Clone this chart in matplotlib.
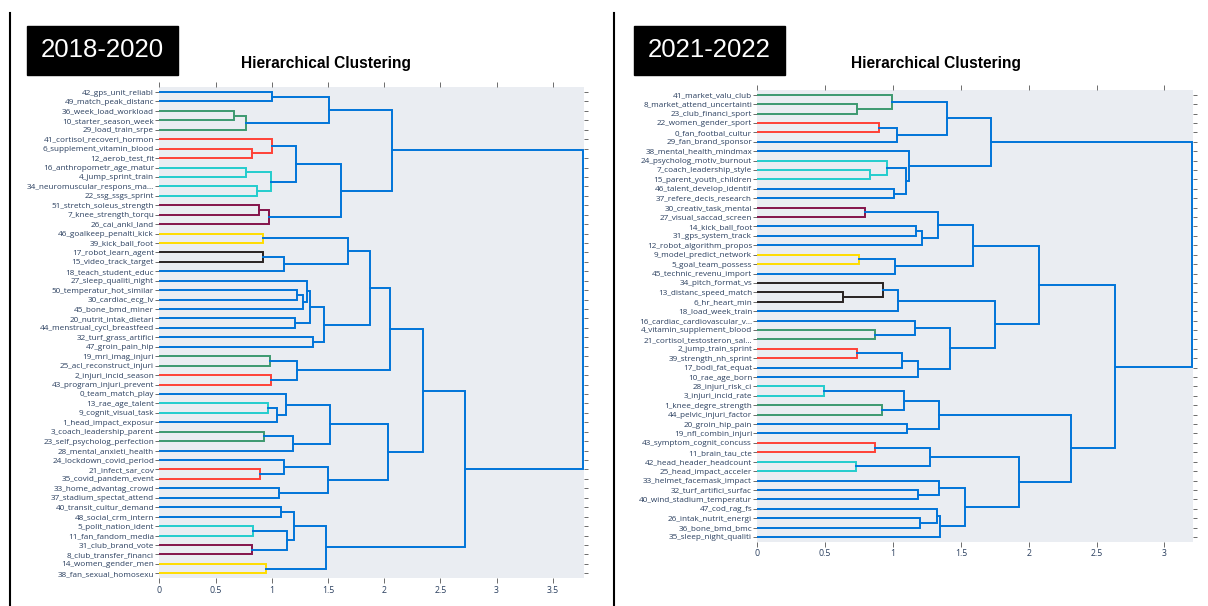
import numpy as np
import matplotlib
matplotlib.use('Agg')
import matplotlib.pyplot as plt
from matplotlib.lines import Line2D
from matplotlib.patches import Rectangle

# cluster colours (0 = links above the colour threshold)
palette = {0: '#0074D9', 1: '#23CDCD', 2: '#3D9970', 3: '#282323',
           4: '#85144B', 5: '#FF4136', 7: '#FFDC00'}
BG = '#EAEDF2'
TXT = '#2a3f5f'

# ---- 2018-2020 ----
labels_a = [
    '42_gps_unit_reliabl', '49_match_peak_distanc', '36_week_load_workload',
    '10_starter_season_week', '29_load_train_srpe', '41_cortisol_recoveri_hormon',
    '6_supplement_vitamin_blood', '12_aerob_test_fit', '16_anthropometr_age_matur',
    '4_jump_sprint_train', '34_neuromuscular_respons_ma...', '22_ssg_ssgs_sprint',
    '51_stretch_soleus_strength', '7_knee_strength_torqu', '26_cai_ankl_land',
    '46_goalkeep_penalti_kick', '39_kick_ball_foot', '17_robot_learn_agent',
    '15_video_track_target', '18_teach_student_educ', '27_sleep_qualiti_night',
    '50_temperatur_hot_similar', '30_cardiac_ecg_lv', '45_bone_bmd_miner',
    '20_nutrit_intak_dietari', '44_menstrual_cycl_breastfeed', '32_turf_grass_artifici',
    '47_groin_pain_hip', '19_mri_imag_injuri', '25_acl_reconstruct_injuri',
    '2_injuri_incid_season', '43_program_injuri_prevent', '0_team_match_play',
    '13_rae_age_talent', '9_cognit_visual_task', '1_head_impact_exposur',
    '3_coach_leadership_parent', '23_self_psycholog_perfection', '28_mental_anxieti_health',
    '24_lockdown_covid_period', '21_infect_sar_cov', '35_covid_pandem_event',
    '33_home_advantag_crowd', '37_stadium_spectat_attend', '40_transit_cultur_demand',
    '48_social_crm_intern', '5_polit_nation_ident', '11_fan_fandom_media',
    '31_club_brand_vote', '8_club_transfer_financi', '14_women_gender_men',
    '38_fan_sexual_homosexu',
]
# merges: node ids 0..n-1 are leaves, new nodes numbered from n upward
pairs_a = [
    (0, 1), (2, 3), (53, 4), (52, 54), (6, 7), (5, 56), (8, 9), (10, 11),
    (58, 59), (57, 60), (12, 13), (62, 14), (61, 63), (55, 64), (15, 16),
    (17, 18), (67, 19), (66, 68), (21, 22), (70, 23), (20, 71), (24, 25),
    (72, 73), (26, 27), (74, 75), (69, 76), (28, 29), (30, 31), (78, 79),
    (77, 80), (33, 34), (82, 35), (32, 83), (36, 37), (85, 38), (84, 86),
    (40, 41), (39, 88), (42, 43), (89, 90), (87, 91), (81, 92), (44, 45),
    (46, 47), (48, 49), (95, 96), (94, 97), (50, 51), (98, 99), (93, 100),
    (65, 101),
]
heights_a = [
    1.005, 0.667, 0.771, 1.510, 0.821, 0.999, 0.774, 0.872,
    0.993, 1.213, 0.884, 0.979, 1.616, 2.073, 0.925,
    0.922, 1.112, 1.679, 1.228, 1.281, 1.311, 1.210,
    1.343, 1.364, 1.465, 1.874, 0.985, 0.993, 1.228,
    2.055, 0.970, 1.047, 1.127, 0.934, 1.192, 1.521,
    0.899, 1.109, 1.068, 1.504, 2.037, 2.349, 1.082,
    0.833, 0.827, 1.133, 1.201, 0.952, 1.486, 2.722,
    3.772,
]
groups_a = [
    0, 2, 2, 0, 5, 5, 1, 1,
    1, 0, 4, 4, 0, 0, 7,
    3, 0, 0, 0, 0, 0, 0,
    0, 0, 0, 0, 2, 5, 0,
    0, 1, 0, 0, 2, 0, 0,
    5, 0, 0, 0, 0, 0, 0,
    1, 4, 0, 0, 7, 0, 0,
    0,
]

# ---- 2021-2022 ----
labels_b = [
    '41_market_valu_club', '8_market_attend_uncertainti', '23_club_financi_sport',
    '22_women_gender_sport', '0_fan_footbal_cultur', '29_fan_brand_sponsor',
    '38_mental_health_mindmax', '24_psycholog_motiv_burnout', '7_coach_leadership_style',
    '15_parent_youth_children', '46_talent_develop_identif', '37_refere_decis_research',
    '30_creativ_task_mental', '27_visual_saccad_screen', '14_kick_ball_foot',
    '31_gps_system_track', '12_robot_algorithm_propos', '9_model_predict_network',
    '5_goal_team_possess', '45_technic_revenu_import', '34_pitch_format_vs',
    '13_distanc_speed_match', '6_hr_heart_min', '18_load_week_train',
    '16_cardiac_cardiovascular_v...', '4_vitamin_supplement_blood',
    '21_cortisol_testosteron_sal...', '2_jump_train_sprint', '39_strength_nh_sprint',
    '17_bodi_fat_equat', '10_rae_age_born', '28_injuri_risk_ci', '3_injuri_incid_rate',
    '1_knee_degre_strength', '44_pelvic_injuri_factor', '20_groin_hip_pain',
    '19_nfl_combin_injuri', '43_symptom_cognit_concuss', '11_brain_tau_cte',
    '42_head_header_headcount', '25_head_impact_acceler', '33_helmet_facemask_impact',
    '32_turf_artifici_surfac', '40_wind_stadium_temperatur', '47_cod_rag_fs',
    '26_intak_nutrit_energi', '36_bone_bmd_bmc', '35_sleep_night_qualiti',
]
pairs_b = [
    (1, 2), (0, 48), (3, 4), (50, 5), (49, 51), (8, 9), (7, 53), (10, 11),
    (54, 55), (6, 56), (52, 57), (12, 13), (14, 15), (60, 16), (59, 61),
    (17, 18), (63, 19), (62, 64), (21, 22), (20, 66), (67, 23), (25, 26),
    (24, 69), (27, 28), (71, 29), (72, 30), (70, 73), (68, 74), (65, 75),
    (31, 32), (33, 34), (77, 78), (35, 36), (79, 80), (37, 38), (39, 40),
    (82, 83), (42, 43), (41, 85), (45, 46), (44, 87), (88, 47), (86, 89),
    (84, 90), (81, 91), (76, 92), (58, 93),
]
heights_b = [
    0.735, 0.993, 0.899, 1.027, 1.400, 0.828, 0.953, 1.005,
    1.098, 1.118, 1.725, 0.791, 1.167, 1.214, 1.334,
    0.749, 1.015, 1.592, 0.629, 0.929, 1.037, 0.870,
    1.162, 0.737, 1.069, 1.182, 1.423, 1.752, 2.074,
    0.491, 0.921, 1.084, 1.101, 1.342, 0.870, 0.727,
    1.275, 1.184, 1.342, 1.199, 1.327, 1.349, 1.533,
    1.929, 2.312, 2.634, 3.204,
]
groups_b = [
    2, 2, 5, 0, 0, 1, 1, 0,
    0, 0, 0, 4, 0, 0, 0,
    7, 0, 0, 3, 3, 0, 2,
    0, 5, 0, 0, 0, 0, 0,
    1, 2, 0, 0, 0, 5, 1,
    0, 0, 0, 0, 0, 0, 0,
    0, 0, 0, 0,
]


def draw_dendro(ax, labels, pairs, heights, groups, xmax):
    n = len(labels)
    ypos = list(range(n))
    hpos = [0.0] * n
    for (a, b), h, g in zip(pairs, heights, groups):
        ax.plot([hpos[a], h, h, hpos[b]], [ypos[a], ypos[a], ypos[b], ypos[b]],
                color=palette[g], lw=1.4, solid_joinstyle='miter')
        ypos.append((ypos[a] + ypos[b]) / 2)
        hpos.append(h)

    ax.set_facecolor(BG)
    for s in ax.spines.values():
        s.set_visible(False)
    ax.set_xlim(0, xmax)
    ax.set_ylim(n - 0.5, -0.5)
    ax.set_yticks(range(n))
    ax.set_yticklabels(labels, family='Open Sans')
    xt = np.arange(0, xmax, 0.5)
    ax.set_xticks(xt)
    ax.set_xticklabels(['%g' % v for v in xt], family='Open Sans')
    ax.tick_params(axis='y', left=True, right=True, direction='out', length=3,
                   width=0.6, color='#555555', labelsize=5.85, labelcolor=TXT, pad=0.8)
    ax.tick_params(axis='x', top=True, bottom=True, direction='out', length=3.5,
                   width=0.6, color='#555555', labelsize=6.3, labelcolor=TXT, pad=2)


W, H = 1208, 606
fig = plt.figure(figsize=(W / 100, H / 100), dpi=100)

ax1 = fig.add_axes([159.3 / W, 1 - 578 / H, 425 / W, 490.7 / H])
draw_dendro(ax1, labels_a, pairs_a, heights_a, groups_a, 3.781)

ax2 = fig.add_axes([757.3 / W, 1 - 541.7 / H, 436 / W, 451.7 / H])
draw_dendro(ax2, labels_b, pairs_b, heights_b, groups_b, 3.213)

# panel titles and period boxes
for cx, bx, period in [(326, 27, '2018-2020'), (936, 634, '2021-2022')]:
    fig.text(cx / W, 1 - 63.5 / H, 'Hierarchical Clustering', ha='center', va='center',
             weight='bold', fontsize=11.2, family='Liberation Sans')
    fig.add_artist(Rectangle((bx / W, 1 - 75 / H), 151 / W, 49 / H,
                             transform=fig.transFigure, color='black'))
    fig.text((bx + 75.5) / W, 1 - 50 / H, period, ha='center', va='center',
             color='white', fontsize=18.5, family='Liberation Sans')

# separators
for x in [9.5, 614]:
    fig.add_artist(Line2D([x / W, x / W], [0, 1 - 13 / H], color='black', lw=1.5,
                          transform=fig.transFigure))

fig.savefig('out.png', dpi=100, facecolor='white')
